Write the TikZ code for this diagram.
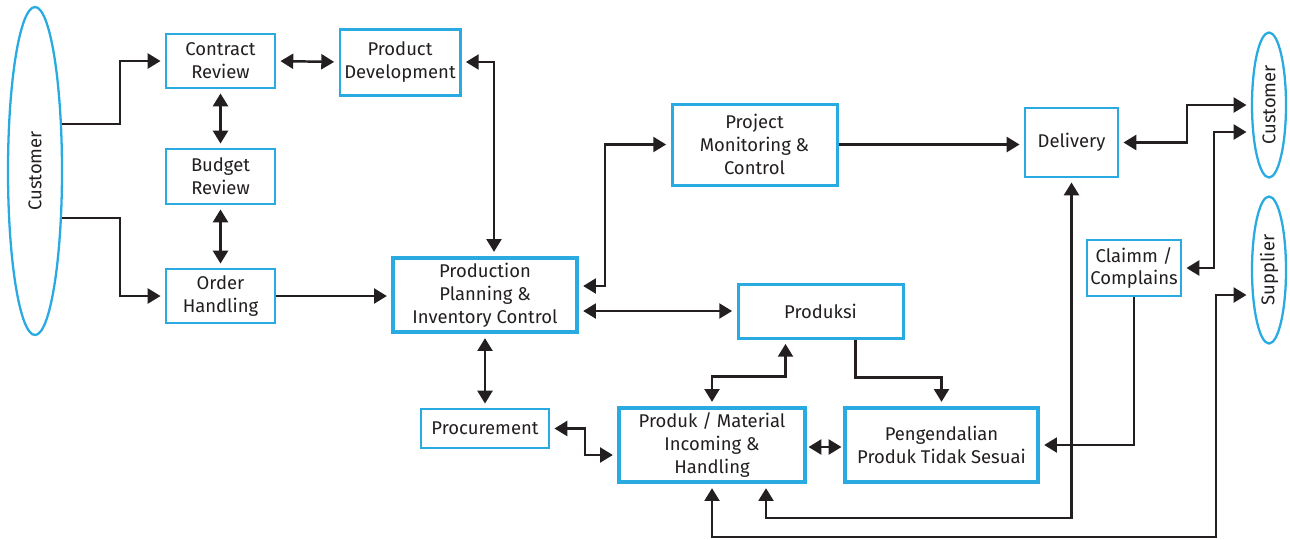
\documentclass[tikz,border=0pt]{standalone}
\usepackage{fontspec}
\setmainfont{Fira Sans}
\usetikzlibrary{arrows.meta,calc,shapes.geometric}
\definecolor{frame}{RGB}{41,171,226}
\definecolor{ink}{RGB}{35,31,32}
\tikzset{
  sz/.style 2 args={minimum width=#1*0.02cm, minimum height=#2*0.02cm},
  txt/.style={text=ink, font=\fontsize{10.5}{13}\selectfont},
  box/.style={draw=frame, line width=1.2pt, fill=white, align=center,
    inner sep=0pt, txt},
  boxm/.style={box, line width=1.7pt},
  boxb/.style={box, line width=2pt},
  party/.style={ellipse, draw=frame, line width=1.3pt, inner sep=0pt, txt},
  tip/.tip={Triangle[length=7.3pt,width=8.5pt]},
  link/.style={draw=ink, line width=1.4pt, -tip, shorten >=2.5pt},
  both/.style={link, tip-tip, shorten <=2.5pt},
}
\begin{document}
\begin{tikzpicture}[x=0.02cm, y=-0.02cm]
\useasboundingbox (0,0) rectangle (1290,539);

% external parties
\node[party, sz={54}{328}] (custL) at (35,171) {\rotatebox{90}{Customer}};
\node[party, sz={34}{145}] (custR) at (1269,105) {\rotatebox{90}{Customer}};
\node[party, sz={34}{147}] (sup)   at (1269,270) {\rotatebox{90}{Supplier}};

% process boxes
\node[box,  sz={109}{54}] (cr)   at (220.5,61)  {Contract\\Review};
\node[boxm, sz={120}{66}] (pd)   at (400,62)    {Product\\Development};
\node[box,  sz={109}{55}] (br)   at (220.5,176.5) {Budget\\Review};
\node[box,  sz={109}{54}] (oh)   at (220.5,296) {Order\\Handling};
\node[boxb, sz={184}{74}] (ppic) at (485,295)   {Production\\Planning \&\\Inventory Control};
\node[boxm, sz={165}{81}] (pmc)  at (754.5,144.5) {Project\\Monitoring \&\\Control};
\node[box,  sz={93}{69}]  (del)  at (1071.5,142.5) {Delivery};
\node[box,  sz={94}{56}]  (cl)   at (1134,268)  {Claimm /\\Complains};
\node[boxm, sz={165}{54}] (pro)  at (820.5,311) {Produksi};
\node[box,  sz={128}{39}] (proc) at (485,428.5) {Procurement};
\node[boxb, sz={186}{74}] (pmih) at (712,445)   {Produk / Material\\Incoming \&\\Handling};
\node[boxb, sz={193}{74}] (pts)  at (941.5,445) {Pengendalian\\Produk Tidak Sesuai};

% order intake
\draw[link] (custL.60) -- ++(58,0) |- (cr.west);
\draw[link] (custL.-60) -- ++(58,0) |- (oh.west);
\draw[both] (cr.east) -- (pd.west);
\draw[both] (cr.south) -- (br.north);
\draw[both] (br.south) -- (oh.north);
\draw[link] (oh.east) -- (oh.east -| ppic.west);
\draw[both] (pd.east) -| ($(ppic.north)+(9,0)$);

% planning and control
\draw[both] ($(ppic.east)+(0,-9)$) -- ++(26,0) |- (pmc.west);
\draw[both] (ppic.east |- pro.west) -- (pro.west);
\draw[both] (ppic.south) -- (proc.north);
\draw[link] (pmc.east) -- (pmc.east -| del.west);

% delivery and customer feedback
\draw[both] (del.east) -- ++(68,0) |- (custR.west);
\draw[both] ($(custR.west)+(0,27)$) -- ++(-37,0) |- (cl.east);
\draw[link] (cl.south) |- (pts.east);

% production
\draw[link] ($(pro.south)+(35,0)$) -- ++(0,38) -| (pts.north);
\draw[both] ($(pro.south)+(-35,0)$) -- ++(0,37) -| (pmih.north);
\draw[both] (proc.east) -- ++(35,0) |- ($(pmih.west)+(0,10)$);
\draw[both, shorten <=1pt, shorten >=1pt] ($(pmih.east)+(0,2)$) -- ($(pts.west)+(0,2)$);

% returns to incoming handling
\draw[both] (del.south) -- (del.south |- 0,518) -| ($(pmih.south)+(54,0)$);
\draw[both] ($(sup.west)+(0,25)$) -| (1216,537) -| (pmih.south);
\end{tikzpicture}
\end{document}
